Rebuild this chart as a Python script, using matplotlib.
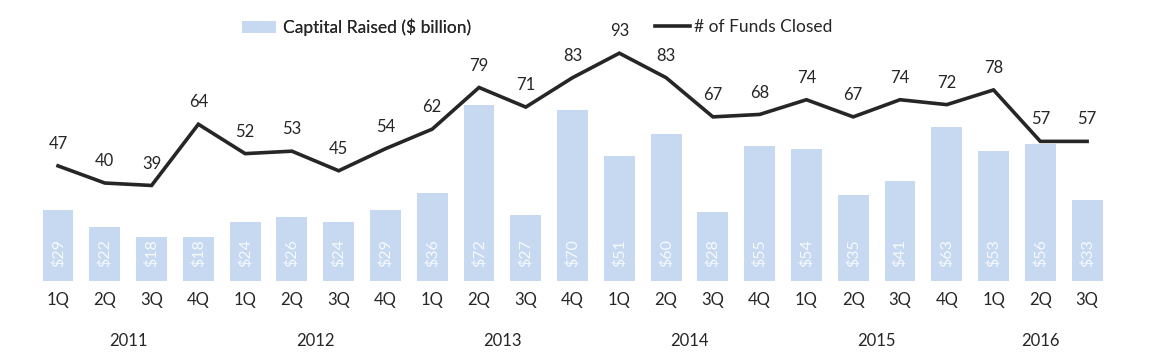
import numpy as np
import matplotlib.pyplot as plt

quarters = ["1Q", "2Q", "3Q", "4Q"] * 5 + ["1Q", "2Q", "3Q"]
years = ["2011", "2012", "2013", "2014", "2015", "2016"]
capital = [29, 22, 18, 18, 24, 26, 24, 29, 36, 72, 27, 70, 51, 60, 28, 55, 54, 35, 41, 63, 53, 56, 33]
funds = [47, 40, 39, 64, 52, 53, 45, 54, 62, 79, 71, 83, 93, 83, 67, 68, 74, 67, 74, 72, 78, 57, 57]

plt.rcParams['font.family'] = ['Lato', 'DejaVu Sans']
txt = '#262626'

fig = plt.figure(figsize=(11.74, 3.64), dpi=100)
ax = fig.add_axes([0.0295, 0.228, 0.9164, 0.673])

x = np.arange(len(capital))
bars = ax.bar(x, capital, width=0.66, color='#C6D9F0', label='Captital Raised ($ billion)')
line, = ax.plot(x, funds, color=txt, lw=2.6, label='# of Funds Closed', solid_joinstyle='miter')

for xi, v in zip(x, capital):
    ax.annotate(f"${v}", (xi, 0), xytext=(0, 10), textcoords='offset points',
                rotation=90, ha='center', va='bottom', color='#F7F9FD', fontsize=11.5)
for xi, v in zip(x, funds):
    ax.annotate(str(v), (xi, v), xytext=(0, 10), textcoords='offset points',
                ha='center', va='bottom', color=txt, fontsize=12)

ax.set_xlim(-0.5, len(x) - 0.5)
ax.set_ylim(0, 100)
ax.set_xticks(x)
ax.set_xticklabels(quarters, fontsize=12, color=txt)
ax.tick_params(axis='x', length=0, pad=8)
ax.set_yticks([])
for s in ax.spines.values():
    s.set_visible(False)

# year labels under the quarter groups
starts = [0, 4, 8, 12, 16, 20]
for yr, st in zip(years, starts):
    n = min(4, len(x) - st)
    ax.text(st + (n - 1) / 2, -0.245, yr, transform=ax.get_xaxis_transform(),
            ha='center', va='center', fontsize=12, color=txt)

# two separate legend entries, placed like the original
leg1 = fig.legend(handles=[bars], loc='center left', bbox_to_anchor=(0.1925, 0.925),
                  frameon=False, fontsize=12.5, handlelength=2.0, handletextpad=0.4,
                  labelcolor=txt)
fig.legend(handles=[line], loc='center left', bbox_to_anchor=(0.545, 0.925),
           frameon=False, fontsize=12.5, handlelength=2.0, handletextpad=0.2,
           labelcolor=txt)
fig.add_artist(leg1)

fig.savefig('out.png', dpi=100)
